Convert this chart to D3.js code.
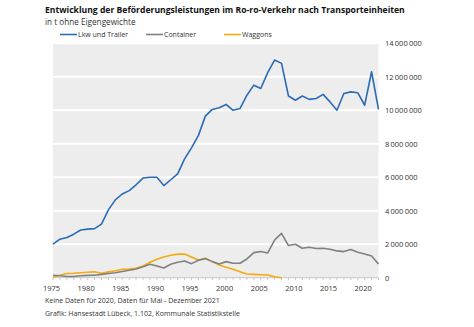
<!DOCTYPE html>
<html>
<head>
<meta charset="utf-8">
<script src="https://cdn.jsdelivr.net/npm/d3@7"></script>
<style>
  body { margin: 0; background: #fff; }
  text { font-family: "Open Sans", sans-serif; }
</style>
</head>
<body>
<svg id="chart" width="474" height="327"></svg>
<script>
var years = d3.range(1975, 2023);

// Tonnen in Mio.
var lkw = [2.0, 2.3, 2.4, 2.6, 2.85, 2.9, 2.93, 3.2, 4.05, 4.65, 5.0, 5.2, 5.55, 5.95, 6.0, 6.0, 5.5, 5.85, 6.2, 7.1,
  7.75, 8.5, 9.65, 10.05, 10.15, 10.35, 10.0, 10.1, 10.9, 11.5, 11.3, 12.25, 13.0, 12.8, 10.85, 10.6, 10.85, 10.65, 10.7, 10.95,
  10.5, 10.0, 11.0, 11.1, 11.05, 10.3, 12.3, 10.05];
var container = [0.15, 0.12, 0.07, 0.07, 0.12, 0.14, 0.15, 0.2, 0.25, 0.3, 0.37, 0.45, 0.52, 0.65, 0.8, 0.7, 0.58, 0.8, 0.92, 1.0,
  0.84, 1.04, 1.14, 0.96, 0.82, 0.96, 0.86, 0.86, 1.12, 1.5, 1.56, 1.48, 2.25, 2.65, 1.92, 2.0, 1.76, 1.82, 1.74, 1.76,
  1.7, 1.6, 1.56, 1.68, 1.52, 1.42, 1.3, 0.82];
var waggons = [0.03, 0.15, 0.25, 0.27, 0.3, 0.33, 0.36, 0.27, 0.35, 0.42, 0.5, 0.52, 0.56, 0.7, 0.92, 1.1, 1.24, 1.34, 1.41, 1.42,
  1.24, 1.06, 1.16, 0.96, 0.76, 0.62, 0.5, 0.36, 0.22, 0.2, 0.18, 0.16, 0.06, 0.0];

var yTicks = [0, 2, 4, 6, 8, 10, 12, 14];
var xTicks = [1975, 1980, 1985, 1990, 1995, 2000, 2005, 2010, 2015, 2020];

var series = [
  {name: "Lkw und Trailer", values: lkw, color: "#2b6cb5"},
  {name: "Container", values: container, color: "#808080"},
  {name: "Waggons", values: waggons, color: "#f5aa0a"}
];

var svg = d3.select("#chart");
var plotLeft = 53, plotRight = 378.5, plotTop = 43.3, plotBottom = 277.7;

var x = d3.scaleLinear().domain([1975, 2022]).range([plotLeft, plotRight]);
var y = d3.scaleLinear().domain([0, 14]).range([plotBottom, plotTop]);

// Hintergrund
svg.append("rect")
  .attr("x", plotLeft).attr("y", plotTop)
  .attr("width", plotRight - plotLeft).attr("height", plotBottom - plotTop)
  .attr("fill", "#ededed");

// Gitterlinien
svg.selectAll(".grid")
  .data(yTicks.filter(function (d) { return d > 0; }))
  .enter().append("line")
  .attr("class", "grid")
  .attr("x1", plotLeft).attr("x2", plotRight)
  .attr("y1", function (d) { return y(d); })
  .attr("y2", function (d) { return y(d); })
  .attr("stroke", "#fff")
  .attr("stroke-width", 2);

// y-Achse rechts
var fmt = function (d) {
  return d === 0 ? "0" : d3.format(",")(d * 1000000).replace(/,/g, "\u2009");
};
svg.selectAll(".ylab")
  .data(yTicks)
  .enter().append("text")
  .attr("class", "ylab")
  .attr("x", 385)
  .attr("y", function (d) { return y(d) + 2.8; })
  .attr("font-size", 7.5)
  .attr("fill", "#333")
  .text(fmt);

// x-Achse
svg.append("line")
  .attr("x1", plotLeft).attr("x2", plotRight)
  .attr("y1", plotBottom).attr("y2", plotBottom)
  .attr("stroke", "#bbb").attr("stroke-width", 0.8);
svg.selectAll(".xtick")
  .data(years)
  .enter().append("line")
  .attr("x1", function (d) { return x(d); })
  .attr("x2", function (d) { return x(d); })
  .attr("y1", plotBottom).attr("y2", plotBottom + 2.5)
  .attr("stroke", "#bbb").attr("stroke-width", 0.8);
svg.selectAll(".xlab")
  .data(xTicks)
  .enter().append("text")
  .attr("x", function (d) { return x(d) - 1.5; })
  .attr("y", 291)
  .attr("text-anchor", "middle")
  .attr("font-size", 7.5)
  .attr("fill", "#333")
  .text(function (d) { return d; });

// Linien
var line = d3.line()
  .x(function (d, i) { return x(years[i]); })
  .y(function (d) { return y(d); });

series.slice().reverse().forEach(function (s) {
  svg.append("path")
    .datum(s.values)
    .attr("d", line)
    .attr("fill", "none")
    .attr("stroke", s.color)
    .attr("stroke-width", 1.6)
    .attr("stroke-linejoin", "round");
});

// Titel
svg.append("text")
  .attr("x", 45).attr("y", 13)
  .attr("font-size", 8.6).attr("font-weight", "bold")
  .attr("fill", "#111")
  .text("Entwicklung der Beförderungsleistungen im Ro-ro-Verkehr nach Transporteinheiten");
svg.append("text")
  .attr("x", 45).attr("y", 25)
  .attr("font-size", 8.2)
  .attr("fill", "#333")
  .text("in t ohne Eigengewichte");

// Legende
var legendX = [60, 146, 224];
series.forEach(function (s, i) {
  svg.append("line")
    .attr("x1", legendX[i]).attr("x2", legendX[i] + 17)
    .attr("y1", 34.5).attr("y2", 34.5)
    .attr("stroke", s.color).attr("stroke-width", 1.6);
  svg.append("text")
    .attr("x", legendX[i] + 18).attr("y", 37)
    .attr("font-size", 7)
    .attr("fill", "#333")
    .text(s.name);
});

// Fussnoten
svg.append("text")
  .attr("x", 45).attr("y", 303)
  .attr("font-size", 7)
  .attr("fill", "#333")
  .text("Keine Daten für 2020, Daten für Mai - Dezember 2021");
svg.append("text")
  .attr("x", 45).attr("y", 316)
  .attr("font-size", 7)
  .attr("fill", "#333")
  .text("Grafik: Hansestadt Lübeck, 1.102, Kommunale Statistikstelle");
</script>
</body>
</html>
